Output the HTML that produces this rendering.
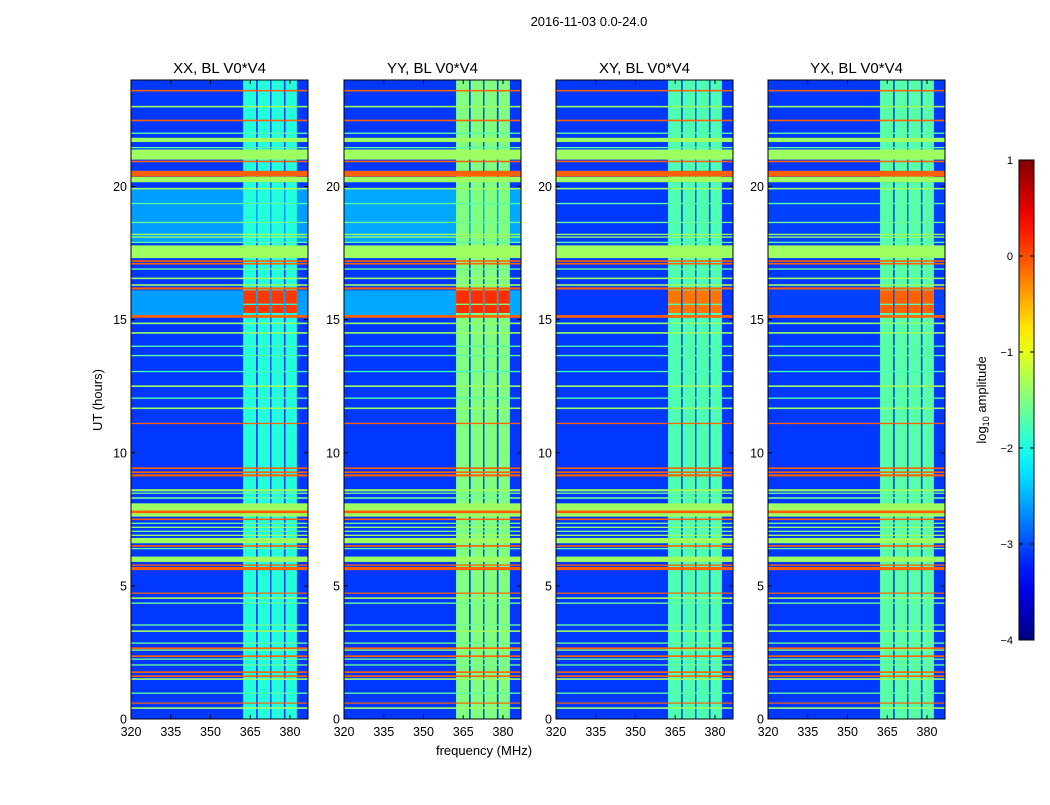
<!DOCTYPE html>
<html><head><meta charset="utf-8">
<style>
body{margin:0;background:#fff;}
svg text{font-family:"Liberation Sans",sans-serif;fill:#000;}
</style></head>
<body>
<svg id="fig" width="1050" height="800" viewBox="0 0 1050 800">
<text x="589" y="26" font-size="13" text-anchor="middle">2016-11-03 0.0-24.0</text>
<g id="panels"></g>
<text transform="translate(102,400) rotate(-90)" font-size="13" text-anchor="middle">UT (hours)</text>
<text x="484" y="755" font-size="13" text-anchor="middle">frequency (MHz)</text>
<g id="cbar"></g>
<text transform="translate(986,400) rotate(-90)" font-size="13" text-anchor="middle">log<tspan font-size="9" dy="3">10</tspan><tspan dy="-3"> amplitude</tspan></text>
</svg>
<script>
// ---- data ----
const panelTitles = ["XX, BL V0*V4", "YY, BL V0*V4", "XY, BL V0*V4", "YX, BL V0*V4"];
const bgLevels = [-3.1, -3.1, -3.1, -3.1];
const bandLevels = [-1.95, -1.5, -1.75, -1.7];
const quietLevels = [-2.6, -2.55, -3.1, -3.05];
const quietStart = [17.9, 15.15];
const quietEnd = [19.9, 16.1];
const subbandStart = [362.3, 367.8, 373.0, 378.3];
const subbandEnd = [367.2, 372.5, 377.7, 382.6];
const burstStart = [15.25, 15.6];
const burstEnd = [15.55, 16.1];
const burstLevels = [0.1, 0.15, -0.2, -0.1];
const rfiHours = [23.6,23.0,22.48,22.0,21.75,21.46,21.2,20.94,20.48,20.26,19.92,19.36,18.65,18.2,18.1,17.9,17.55,17.2,17.1,16.9,16.55,16.3,16.17,15.12,14.86,14.5,14.0,13.65,13.05,12.5,12.05,11.67,11.1,9.42,9.27,9.15,8.59,8.48,8.3,7.85,7.78,7.5,7.35,7.2,7.05,6.9,6.7,6.5,6.4,6.0,5.78,5.65,4.73,4.54,4.35,3.53,3.3,2.85,2.66,2.59,2.36,2.25,2.03,1.76,1.61,1.5,0.97,0.6,0.41];
const rfiWidths = [0.06,0.06,0.06,0.05,0.16,0.05,0.38,0.06,0.22,0.2,0.06,0.05,0.05,0.05,0.05,0.05,0.48,0.06,0.06,0.05,0.06,0.06,0.08,0.1,0.06,0.06,0.05,0.05,0.05,0.06,0.05,0.06,0.05,0.06,0.06,0.08,0.08,0.05,0.06,0.5,0.1,0.06,0.05,0.05,0.05,0.05,0.2,0.06,0.05,0.2,0.05,0.12,0.04,0.06,0.05,0.05,0.06,0.05,0.06,0.05,0.06,0.05,0.05,0.06,0.06,0.06,0.05,0.04,0.06];
const rfiLevels = [-0.1,-1.35,-0.1,-1.7,-1.35,-1.7,-1.35,-0.1,-0.1,-1.35,-1.35,-1.7,-1.6,-1.35,-1.35,-1.7,-1.35,-0.1,-0.1,-1.6,-1.35,-1.35,-0.1,-0.1,-1.4,-1.35,-1.7,-1.7,-1.8,-1.35,-1.7,-1.35,-0.1,-0.1,-0.1,-0.1,-1.35,-1.6,-1.6,-1.35,-0.1,-0.1,-1.6,-1.35,-1.6,-1.35,-1.35,-0.1,-1.6,-1.35,-0.1,-0.1,-0.1,-1.35,-1.6,-1.6,-1.35,-1.6,-0.1,-1.35,-0.1,-1.6,-1.6,-0.1,-0.1,-1.35,-1.7,-0.1,-1.35];
const xTicks = [320, 335, 350, 365, 380];
const yTicks = [0, 5, 10, 15, 20];
const cbarTicks = [1, 0, -1, -2, -3, -4];
// ---- layout ----
const panelLeft = [131, 344, 556, 768];
const pw = 177, plotTop = 80, plotBottom = 719;
const fMin = 320, fMax = 386.8, hMin = 0, hMax = 24;
const vMin = -4, vMax = 1;
const NS = "http://www.w3.org/2000/svg";
function jet(v){
  let t = (v - vMin) / (vMax - vMin); t = Math.max(0, Math.min(1, t));
  const c = x => Math.round(255 * Math.max(0, Math.min(1, x)));
  return `rgb(${c(1.5-Math.abs(4*t-3))},${c(1.5-Math.abs(4*t-2))},${c(1.5-Math.abs(4*t-1))})`;
}
function mk(tag, attrs, parent){ const e = document.createElementNS(NS, tag); for (const k in attrs) e.setAttribute(k, attrs[k]); parent.appendChild(e); return e; }
const yS = h => plotBottom - (h - hMin) / (hMax - hMin) * (plotBottom - plotTop);
const panelsG = document.getElementById('panels');
panelTitles.forEach((title, p) => {
  const x0 = panelLeft[p];
  const xS = f => x0 + (f - fMin) / (fMax - fMin) * pw;
  const g = mk('g', {}, panelsG);
  
  
  const bg = mk('rect', {x: x0, y: plotTop, width: pw, height: plotBottom - plotTop, fill: jet(bgLevels[p])}, g);
  
  
  quietStart.forEach((s, i) => {
    const r = mk('rect', {x: x0, y: yS(quietEnd[i]), width: pw, height: yS(s) - yS(quietEnd[i]), fill: jet(quietLevels[p])}, g);
    
    
  });
  subbandStart.forEach((s, i) => {
    const r = mk('rect', {x: xS(s), y: plotTop, width: xS(subbandEnd[i]) - xS(s), height: plotBottom - plotTop, fill: jet(bandLevels[p])}, g);
    
    
    burstStart.forEach((b, j) => {
      const q = mk('rect', {x: xS(s), y: yS(burstEnd[j]), width: xS(subbandEnd[i]) - xS(s), height: yS(b) - yS(burstEnd[j]), fill: jet(burstLevels[p])}, g);
      
      
    });
  });
  rfiHours.forEach((h, i) => {
    const y1 = yS(h + rfiWidths[i] / 2), y2 = yS(h - rfiWidths[i] / 2);
    const r = mk('rect', {x: x0, y: y1, width: pw, height: Math.max(1.2, y2 - y1), fill: jet(rfiLevels[i])}, g);
    
    
  });
  const fr = mk('rect', {x: x0, y: plotTop, width: pw, height: plotBottom - plotTop, fill: 'none', stroke: '#000', 'stroke-width': 1}, g);
  
  
  const t = mk('text', {x: x0 + pw/2, y: 73, 'font-size': 15, 'text-anchor': 'middle'}, g);
  t.textContent = title;
  
  
  xTicks.forEach(v => {
    const x = xS(v);
    mk('line', {x1: x, x2: x, y1: plotBottom, y2: plotBottom - 4, stroke: '#000'}, g);
    mk('line', {x1: x, x2: x, y1: plotTop, y2: plotTop + 4, stroke: '#000'}, g);
    const l = mk('text', {x: x, y: plotBottom + 17, 'font-size': 12.5, 'text-anchor': 'middle'}, g);
    l.textContent = v;
    
    
  });
  yTicks.forEach(v => {
    const y = yS(v);
    mk('line', {x1: x0, x2: x0 + 4, y1: y, y2: y, stroke: '#000'}, g);
    mk('line', {x1: x0 + pw, x2: x0 + pw - 4, y1: y, y2: y, stroke: '#000'}, g);
    const l = mk('text', {x: x0 - 4, y: y + 4.5, 'font-size': 12.5, 'text-anchor': 'end'}, g);
    l.textContent = v;
    
    
  });
});
// colorbar
const cb = document.getElementById('cbar');
const cbX = 1019, cbW = 15, cbTop = 160, cbBot = 640;
const cbY = v => cbBot - (v - vMin) / (vMax - vMin) * (cbBot - cbTop);
const defs = mk('defs', {}, cb);
const grad = mk('linearGradient', {id: 'jetg', x1: 0, y1: 1, x2: 0, y2: 0}, defs);
for (let i = 0; i <= 20; i++) mk('stop', {offset: i/20, 'stop-color': jet(vMin + (vMax - vMin) * i / 20)}, grad);
const cbr = mk('rect', {x: cbX, y: cbTop, width: cbW, height: cbBot - cbTop, fill: 'url(#jetg)', stroke: '#000'}, cb);


cbarTicks.forEach(v => {
  const y = cbY(v);
  mk('line', {x1: cbX, x2: cbX + 4, y1: y, y2: y, stroke: '#000'}, cb);
  mk('line', {x1: cbX + cbW, x2: cbX + cbW - 4, y1: y, y2: y, stroke: '#000'}, cb);
  const l = mk('text', {x: 1013, y: y + 4, 'font-size': 11, 'text-anchor': 'end'}, cb);
  l.textContent = v < 0 ? '\u2212' + Math.abs(v) : v;
  
  
});
</script>
</body></html>
